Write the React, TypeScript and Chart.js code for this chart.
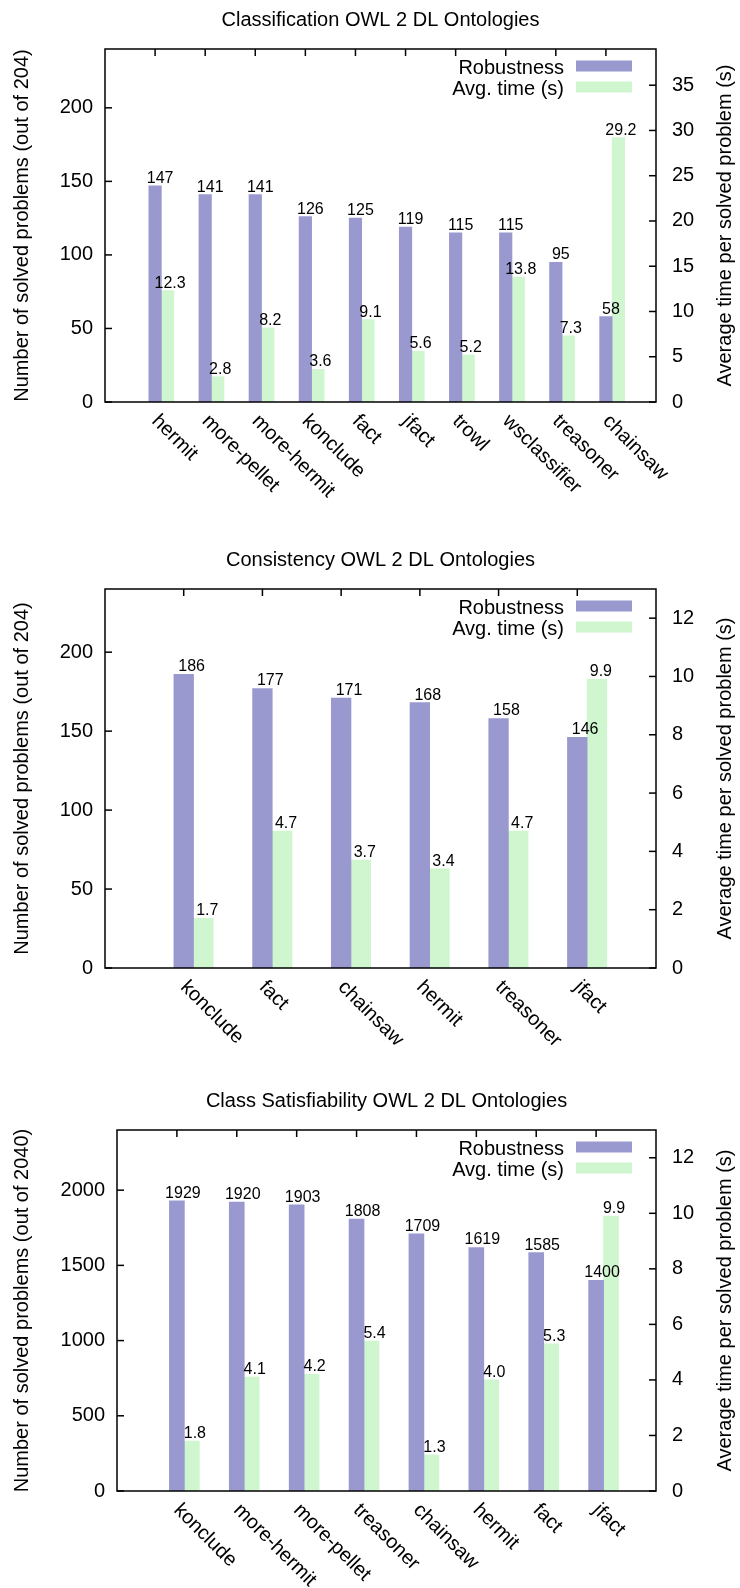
import { useEffect, useRef } from 'react';
import { Chart, registerables } from 'chart.js';

Chart.register(...registerables);

const FONT = "'Liberation Sans', Arial, Helvetica, sans-serif";
Chart.defaults.font.family = FONT;

// ---------- data ----------
const C1_CATS = ['hermit', 'more-pellet', 'more-hermit', 'konclude', 'fact', 'jfact', 'trowl', 'wsclassifier', 'treasoner', 'chainsaw'];
const C1_ROBUST = [147, 141, 141, 126, 125, 119, 115, 115, 95, 58];
const C1_TIME = [12.3, 2.8, 8.2, 3.6, 9.1, 5.6, 5.2, 13.8, 7.3, 29.2];
const C1_YTICKS = [0, 50, 100, 150, 200];
const C1_Y2TICKS = [0, 5, 10, 15, 20, 25, 30, 35];

const C2_CATS = ['konclude', 'fact', 'chainsaw', 'hermit', 'treasoner', 'jfact'];
const C2_ROBUST = [186, 177, 171, 168, 158, 146];
const C2_TIME = [1.7, 4.7, 3.7, 3.4, 4.7, 9.9];
const C2_YTICKS = [0, 50, 100, 150, 200];
const C2_Y2TICKS = [0, 2, 4, 6, 8, 10, 12];

const C3_CATS = ['konclude', 'more-hermit', 'more-pellet', 'treasoner', 'chainsaw', 'hermit', 'fact', 'jfact'];
const C3_ROBUST = [1929, 1920, 1903, 1808, 1709, 1619, 1585, 1400];
const C3_TIME = [1.8, 4.1, 4.2, 5.4, 1.3, 4.0, 5.3, 9.9];
const C3_YTICKS = [0, 500, 1000, 1500, 2000];
const C3_Y2TICKS = [0, 2, 4, 6, 8, 10, 12];

const SERIES_NAMES = ['Robustness', 'Avg. time (s)'];
const Y2_TITLE = 'Average time per solved problem (s)';

// ---------- styling ----------
const ROB_COLOR = '#9999cf';
const TIME_COLOR = '#d0f6d0';
const BOX = 0.25; // bar width in category units
const TICK = 7;
const W = 740;

type Cfg = {
  title: string;
  cats: string[];
  robust: number[];
  time: number[];
  yMax: number;
  y2Max: number;
  yTicks: number[];
  y2Ticks: number[];
  yTitle: string;
  h: number;
  left: number;
  right: number;
  top: number;
  bottom: number;
};

const CHARTS: Cfg[] = [
  {
    title: 'Classification OWL 2 DL Ontologies', cats: C1_CATS, robust: C1_ROBUST, time: C1_TIME,
    yMax: 240, y2Max: 39, yTicks: C1_YTICKS, y2Ticks: C1_Y2TICKS,
    yTitle: 'Number of solved problems (out of 204)', h: 530, left: 105, right: 656, top: 49, bottom: 402,
  },
  {
    title: 'Consistency OWL 2 DL Ontologies', cats: C2_CATS, robust: C2_ROBUST, time: C2_TIME,
    yMax: 240, y2Max: 13, yTicks: C2_YTICKS, y2Ticks: C2_Y2TICKS,
    yTitle: 'Number of solved problems (out of 204)', h: 530, left: 105, right: 656, top: 59, bottom: 438,
  },
  {
    title: 'Class Satisfiability OWL 2 DL Ontologies', cats: C3_CATS, robust: C3_ROBUST, time: C3_TIME,
    yMax: 2400, y2Max: 13, yTicks: C3_YTICKS, y2Ticks: C3_Y2TICKS,
    yTitle: 'Number of solved problems (out of 2040)', h: 528, left: 117, right: 656, top: 70, bottom: 431,
  },
];

function makeDecor(cfg: Cfg) {
  const line = (ctx: CanvasRenderingContext2D, x1: number, y1: number, x2: number, y2: number) => {
    ctx.beginPath();
    ctx.moveTo(x1, y1);
    ctx.lineTo(x2, y2);
    ctx.stroke();
  };
  return {
    id: 'decor',
    beforeDatasetsDraw(chart: any) {
      const ctx: CanvasRenderingContext2D = chart.ctx;
      const a = chart.chartArea;
      const xs = chart.scales.x;
      ctx.save();
      ctx.strokeStyle = '#000';
      ctx.lineWidth = 1.5;
      cfg.cats.forEach((_, i) => {
        const px = xs.getPixelForValue(i);
        line(ctx, px, a.bottom, px, a.bottom - TICK);
      });
      ctx.restore();
    },
    afterDraw(chart: any) {
      const ctx: CanvasRenderingContext2D = chart.ctx;
      const a = chart.chartArea;
      const xs = chart.scales.x;
      const ys = chart.scales.y;
      const y2s = chart.scales.y2;
      ctx.save();
      ctx.strokeStyle = '#000';
      ctx.fillStyle = '#000';
      ctx.lineWidth = 1.5;

      // ticks (inward)
      cfg.cats.forEach((_, i) => {
        const px = xs.getPixelForValue(i);
        line(ctx, px, a.top, px, a.top + TICK);
      });
      cfg.yTicks.forEach((v) => {
        const py = ys.getPixelForValue(v);
        line(ctx, a.left, py, a.left + TICK, py);
      });
      cfg.y2Ticks.forEach((v) => {
        const py = y2s.getPixelForValue(v);
        line(ctx, a.right, py, a.right - TICK, py);
      });

      // border
      ctx.strokeRect(a.left, a.top, a.right - a.left, a.bottom - a.top);

      // value labels
      ctx.font = `16px ${FONT}`;
      ctx.textAlign = 'center';
      ctx.textBaseline = 'alphabetic';
      cfg.robust.forEach((v, i) => {
        ctx.fillText(String(v), xs.getPixelForValue(i + 0.1), ys.getPixelForValue(v) - 3);
      });
      cfg.time.forEach((v, i) => {
        ctx.fillText(v.toFixed(1), xs.getPixelForValue(i + BOX + 0.05), y2s.getPixelForValue(v) - 3);
      });

      // category labels, rotated -45 (going down-right)
      ctx.font = `20px ${FONT}`;
      ctx.textAlign = 'left';
      cfg.cats.forEach((c, i) => {
        const px = xs.getPixelForValue(i);
        ctx.save();
        ctx.translate(px - 4, a.bottom + 20);
        ctx.rotate(Math.PI / 4);
        ctx.fillText(c, 0, 0);
        ctx.restore();
      });

      // axis titles
      const midY = (a.top + a.bottom) / 2;
      ctx.textAlign = 'center';
      ctx.save();
      ctx.translate(28, midY);
      ctx.rotate(-Math.PI / 2);
      ctx.fillText(cfg.yTitle, 0, 0);
      ctx.restore();
      ctx.save();
      ctx.translate(731, midY);
      ctx.rotate(-Math.PI / 2);
      ctx.fillText(Y2_TITLE, 0, 0);
      ctx.restore();

      // title
      ctx.fillText(cfg.title, (a.left + a.right) / 2, a.top - 23);

      // legend
      const colors = [ROB_COLOR, TIME_COLOR];
      const rows = [a.top + 17, a.top + 38];
      ctx.textAlign = 'right';
      SERIES_NAMES.forEach((name, k) => {
        const cy = rows[k];
        ctx.fillStyle = '#000';
        ctx.fillText(name, a.right - 92, cy + 7.5);
        ctx.fillStyle = colors[k];
        ctx.fillRect(a.right - 80, cy - 5.5, 56, 11);
      });
      ctx.restore();
    },
  };
}

function ChartBox({ cfg }: { cfg: Cfg }) {
  const ref = useRef<HTMLCanvasElement>(null);
  useEffect(() => {
    const n = cfg.cats.length;
    const chart = new Chart(ref.current as HTMLCanvasElement, {
      type: 'bar',
      data: {
        datasets: [
          {
            label: SERIES_NAMES[0],
            data: cfg.robust.map((v, i) => ({ x: i, y: v })),
            backgroundColor: ROB_COLOR,
            borderWidth: 0,
            yAxisID: 'y',
            grouped: false,
            categoryPercentage: 1,
            barPercentage: 1,
          } as any,
          {
            label: SERIES_NAMES[1],
            data: cfg.time.map((v, i) => ({ x: i + BOX, y: v })),
            backgroundColor: TIME_COLOR,
            borderWidth: 0,
            yAxisID: 'y2',
            grouped: false,
            categoryPercentage: 1,
            barPercentage: 1,
          } as any,
        ],
      },
      options: {
        responsive: false,
        animation: false,
        layout: { padding: { top: cfg.top, left: 0, right: 0, bottom: 0 } },
        plugins: {
          legend: { display: false },
          title: { display: false },
          tooltip: { enabled: false },
        },
        scales: {
          x: {
            type: 'linear',
            offset: false,
            min: -1,
            max: n,
            grid: { display: false, drawTicks: false, offset: false },
            border: { display: false },
            ticks: { display: false },
            afterBuildTicks: (ax: any) => {
              ax.ticks = cfg.cats.map((_, i) => ({ value: i }));
            },
            afterFit: (ax: any) => {
              ax.height = cfg.h - cfg.bottom;
            },
          },
          y: {
            type: 'linear',
            position: 'left',
            min: 0,
            max: cfg.yMax,
            grid: { display: false, drawTicks: false },
            border: { display: false },
            ticks: {
              color: '#000',
              font: { size: 20, family: FONT },
              padding: 12,
              callback: (v: any) => String(v),
            },
            afterBuildTicks: (ax: any) => {
              ax.ticks = cfg.yTicks.map((v) => ({ value: v }));
            },
            afterFit: (ax: any) => {
              ax.width = cfg.left;
            },
          },
          y2: {
            type: 'linear',
            position: 'right',
            min: 0,
            max: cfg.y2Max,
            grid: { display: false, drawTicks: false },
            border: { display: false },
            ticks: {
              color: '#000',
              font: { size: 20, family: FONT },
              padding: 16,
              callback: (v: any) => String(v),
            },
            afterBuildTicks: (ax: any) => {
              ax.ticks = cfg.y2Ticks.map((v) => ({ value: v }));
            },
            afterFit: (ax: any) => {
              ax.width = W - cfg.right;
            },
          },
        },
      } as any,
      plugins: [makeDecor(cfg)],
    });
    return () => chart.destroy();
  }, [cfg]);
  return (
    <canvas
      ref={ref}
      width={W}
      height={cfg.h}
      style={{ display: 'block', width: W, height: cfg.h }}
    />
  );
}

export default function App() {
  return (
    <div style={{ position: 'absolute', left: 0, top: 0, width: W, background: '#fff' }}>
      {CHARTS.map((c) => (
        <ChartBox key={c.title} cfg={c} />
      ))}
    </div>
  );
}
